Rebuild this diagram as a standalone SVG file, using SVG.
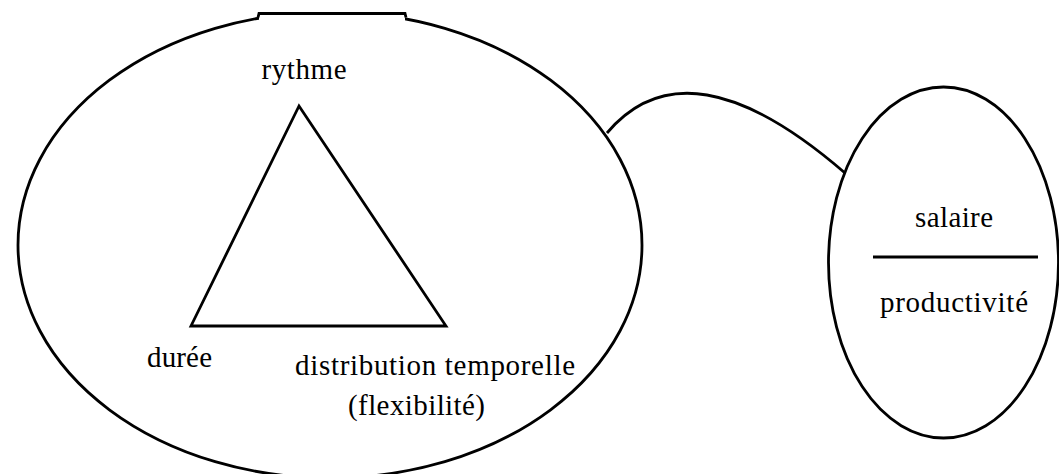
<svg xmlns="http://www.w3.org/2000/svg" width="1059" height="474" viewBox="0 0 1059 474">
<style>
.ln{fill:none;stroke:#000;stroke-width:2.8;stroke-linejoin:miter}
.t{font-family:"Liberation Serif","Times New Roman",serif;font-size:29px;fill:#000}
</style>
<defs>
<clipPath id="topcut"><path clip-rule="evenodd" d="M0,0 H1059 V474 H0 Z M259,0 H405 V22 H259 Z"/></clipPath>
</defs>
<rect width="1059" height="474" fill="#fff"/>
<g id="big-ellipse">
<ellipse class="ln" cx="330" cy="245" rx="312" ry="233" clip-path="url(#topcut)"/>
<path class="ln" d="M258,17.5 L259,13.5 L405,13.5 L406,17.5"/>
</g>
<g id="triangle">
<polygon class="ln" points="299,106 191,326 446,326"/>
</g>
<g id="rythme"><text class="t" x="304" y="79" text-anchor="middle" textLength="85">rythme</text></g>
<g id="duree"><text class="t" x="147" y="367" textLength="65">durée</text></g>
<g id="distribution">
<text class="t" x="295" y="375" textLength="280">distribution temporelle</text>
<text class="t" x="348" y="415" textLength="137">(flexibilité)</text>
</g>
<g id="small-ellipse">
<ellipse class="ln" cx="943.5" cy="262.5" rx="115" ry="175.5"/>
<text class="t" x="954" y="227" text-anchor="middle" textLength="78">salaire</text>
<line class="ln" x1="873" y1="257" x2="1038" y2="257"/>
<text class="t" x="954" y="312" text-anchor="middle" textLength="148">productivité</text>
</g>
<g id="connectors">
<path class="ln" d="M607,133 Q688,37 845,173"/>
</g>
</svg>
